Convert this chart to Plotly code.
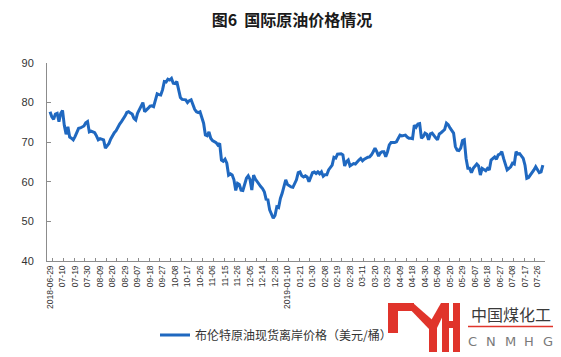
import plotly.graph_objects as go

tick_labels = ["2018-06-29", "07-10", "07-19", "07-30", "08-09", "08-20", "08-29", "09-07", "09-18", "09-27",
               "10-08", "10-17", "10-26", "11-06", "11-15", "11-26", "12-05", "12-14", "12-28", "2019-01-10",
               "01-21", "01-30", "02-08", "02-19", "02-28", "03-11", "03-20", "03-29", "04-09", "04-18",
               "04-30", "05-09", "05-20", "05-29", "06-07", "06-18", "06-27", "07-08", "07-17", "07-26"]

brent = [
    77.7, 76.4, 75.8, 77.1, 77.3, 75.2, 77.3, 78.0, 74.2, 72.0,
    73.9, 71.3, 71.0, 70.6, 71.4, 72.4, 73.5, 73.6, 73.8, 74.1,
    74.9, 75.2, 72.6, 72.8, 72.6, 72.4, 71.6, 70.6, 70.9, 70.8,
    70.6, 68.5, 69.2, 69.7, 70.8, 71.8, 72.4, 72.9, 73.9, 74.6,
    75.2, 75.8, 76.6, 77.5, 77.7, 77.4, 77.1, 76.0, 75.6, 77.3,
    78.2, 79.0, 80.0, 77.7, 78.3, 78.6, 79.1, 79.2, 79.0, 80.7,
    82.2, 82.0, 81.9, 83.2, 85.3, 85.2, 85.9, 85.7, 86.1, 84.9,
    84.8, 85.3, 83.6, 81.3, 80.8, 80.8, 80.7, 80.0, 80.5, 80.7,
    79.4, 78.3, 77.7, 77.5, 77.7, 76.0, 74.8, 71.8, 71.6, 72.6,
    71.0, 70.4, 70.2, 69.9, 69.3, 69.7, 65.5, 65.2, 65.7, 64.7,
    61.7, 62.0, 61.7, 60.5, 57.8, 59.6, 59.3, 57.9, 57.8, 59.2,
    60.9, 61.5, 60.6, 57.9, 61.7, 60.7, 60.0, 59.6, 58.8, 58.3,
    57.5, 55.6, 55.5, 52.9, 51.9, 50.8, 51.5, 53.7, 53.5, 55.8,
    57.1, 59.2, 60.5, 59.3, 58.9, 58.7, 58.6, 59.6, 60.5, 62.3,
    62.5, 61.5, 61.2, 61.5, 61.2, 60.0, 61.4, 62.3, 62.5, 62.1,
    62.5, 62.0, 62.5, 61.4, 61.8, 61.8, 63.0, 63.6, 64.2, 66.2,
    66.0, 67.0, 67.1, 67.1, 66.8, 64.0, 65.1, 65.5, 64.0, 64.4,
    64.6, 64.5, 65.1, 65.5, 65.9, 65.3, 65.7, 66.0, 66.2, 66.3,
    66.8, 67.6, 68.5, 67.6, 66.5, 67.3, 67.6, 67.6, 66.3, 67.6,
    69.3, 69.9, 69.9, 69.9, 70.1, 71.0, 71.8, 71.6, 71.7, 71.8,
    71.3, 71.0, 71.0, 70.9, 74.3, 73.8, 74.6, 74.7, 71.0, 71.4,
    72.3, 72.0, 70.6, 72.1, 72.3, 71.6, 71.1, 70.6, 72.1, 72.4,
    72.9, 73.2, 74.8, 74.4, 73.6, 72.9, 72.3, 68.9, 68.0, 67.9,
    68.5, 70.4, 70.6, 65.9, 63.4, 63.4, 62.3, 63.4, 64.0, 64.5,
    64.0, 61.7, 63.4, 63.0, 62.8, 63.4, 63.0, 65.5, 65.9, 66.3,
    65.7, 66.8, 67.0, 67.6, 65.9, 64.7, 63.0, 63.4, 63.8, 64.7,
    64.5, 67.6, 67.0, 67.1, 66.5, 65.9, 64.2, 60.9, 61.1, 61.7,
    62.1, 63.0, 63.8, 63.0, 62.3, 62.5, 64.2,
]

series_name = "布伦特原油现货离岸价格（美元/桶）"
title_text = "图6  国际原油价格情况"

# The page body has an 8px margin, so the figure is drawn 8px in from the window corner.
OFF = 8
W, H = 561 - OFF, 357 - OFF
L, R, T, B = 47 - OFF, 561 - 545, 63 - OFF, 357 - 261
PW, PH = W - L - R, H - T - B


def px(x):  # window pixel -> paper x
    return (x - OFF - L) / PW


def py(y):  # window pixel -> paper y
    return (H - B - (y - OFF)) / PH


idx = list(range(len(brent)))
label_pos = [i * 7 for i in range(len(tick_labels))]

fig = go.Figure()
fig.add_trace(go.Scatter(
    x=idx, y=brent, mode="lines", name=series_name,
    line=dict(color="#1f68c0", width=3),
))

axis_col = "#8c8c8c"
fig.update_layout(
    width=W, height=H,
    margin=dict(l=L, r=R, t=T, b=B, autoexpand=False),
    paper_bgcolor="white", plot_bgcolor="white",
    title=dict(text=title_text, x=(292 - OFF) / W, xanchor="center", y=1 - (20 - OFF) / H, yanchor="middle",
               font=dict(family="Noto Sans CJK SC", size=16, color="#1a1a1a", weight="bold")),
    showlegend=True,
    legend=dict(orientation="h", x=px(155), xanchor="left", y=py(335), yanchor="middle",
                font=dict(family="Noto Sans CJK SC", size=12, color="#333333"),
                bgcolor="rgba(0,0,0,0)", itemwidth=30),
    font=dict(family="Liberation Sans", color="#333333"),
)

fig.update_xaxes(
    range=[-1.7, 277.2], tickmode="array", tickvals=label_pos, ticktext=tick_labels,
    tickangle=-90, tickfont=dict(family="Liberation Sans", size=8.5, color="#333333"),
    showline=True, linecolor=axis_col, linewidth=1, ticks="", showgrid=False, zeroline=False,
    automargin=False,
    minor=dict(ticks="inside", ticklen=3, tickcolor=axis_col, tick0=1.5, dtick=6, showgrid=False),
)
fig.update_yaxes(
    range=[40, 90], dtick=10, tick0=40,
    tickfont=dict(family="Liberation Sans", size=11, color="#333333"),
    showline=True, linecolor=axis_col, linewidth=1, ticks="inside", ticklen=4, tickcolor=axis_col,
    showgrid=False, zeroline=False, ticklabelstandoff=10, automargin=False,
)

# Watermark logo (red emblem + text)
red = "#e0342b"


def poly(points):
    s = "M " + " L ".join(f"{px(x):.5f},{py(y):.5f}" for x, y in points) + " Z"
    return dict(type="path", xref="paper", yref="paper", path=s, fillcolor=red,
                line=dict(width=0), layer="above")


shapes = [
    poly([(388, 303), (414, 303), (414, 311), (398, 311), (398, 333), (388, 333)]),
    poly([(404, 303), (413, 303), (437, 324), (429, 329)]),
    poly([(429, 321), (437, 321), (437, 352), (429, 352)]),
    poly([(429, 324), (441, 303), (449, 303), (437, 328)]),
    poly([(442, 303), (449, 303), (449, 352), (442, 352)]),
    poly([(449, 321), (454, 321), (454, 328), (449, 328)]),
    poly([(453, 303), (460, 303), (460, 352), (453, 352)]),
    dict(type="line", xref="paper", yref="paper", x0=px(468), x1=px(554), y0=py(326.5), y1=py(326.5),
         line=dict(color=red, width=1.5), layer="above"),
]
fig.update_layout(shapes=shapes)

fig.add_annotation(text="中国煤化工", xref="paper", yref="paper", x=px(510.5), y=py(314),
                   xanchor="center", yanchor="middle", showarrow=False,
                   font=dict(family="Noto Sans CJK SC", size=16, color="#3a3a3a"))
for ch, cx in zip("CNMHG", [472, 491, 510, 529, 548]):
    fig.add_annotation(text=ch, xref="paper", yref="paper", x=px(cx), y=py(341),
                       xanchor="center", yanchor="middle", showarrow=False,
                       font=dict(family="DejaVu Sans", size=13, color="#7a7a7a"))

fig.write_html("out.html")
